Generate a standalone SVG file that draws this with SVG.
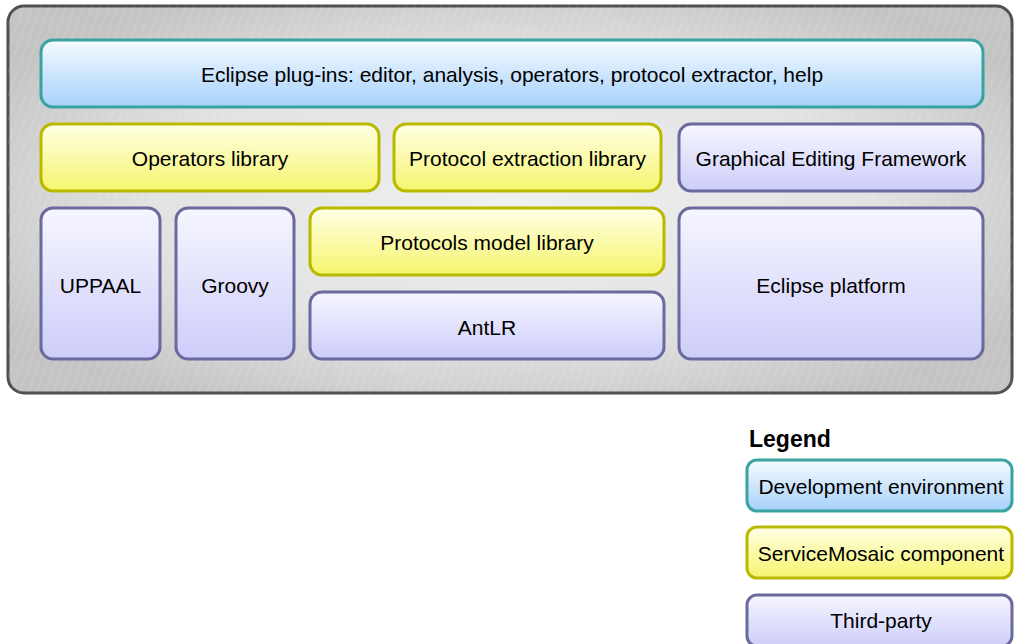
<svg xmlns="http://www.w3.org/2000/svg" width="1014" height="644" viewBox="0 0 1014 644">
<defs>
<radialGradient id="bg" cx="0.5" cy="0.5" r="0.6">
<stop offset="0" stop-color="#f0f0f0"/>
<stop offset="0.6" stop-color="#e2e2e2"/>
<stop offset="1" stop-color="#c4c4c4"/>
</radialGradient>
<pattern id="hatch" width="8" height="8" patternUnits="userSpaceOnUse" patternTransform="rotate(20)">
<line x1="0" y1="0" x2="0" y2="8" stroke="#ffffff" stroke-width="0.8" stroke-opacity="0.35"/>
</pattern>
<linearGradient id="gBlue" x1="0" y1="0" x2="0" y2="1">
<stop offset="0" stop-color="#f6fbff"/>
<stop offset="1" stop-color="#a6d1fb"/>
</linearGradient>
<linearGradient id="gYellow" x1="0" y1="0" x2="0" y2="1">
<stop offset="0" stop-color="#ffffe6"/>
<stop offset="1" stop-color="#f6f56e"/>
</linearGradient>
<linearGradient id="gPurple" x1="0" y1="0" x2="0" y2="1">
<stop offset="0" stop-color="#f6f6ff"/>
<stop offset="1" stop-color="#cdcdfa"/>
</linearGradient>
</defs>
<style>
.dev{fill:url(#gBlue);stroke:#39a39f;stroke-width:3}
.sm{fill:url(#gYellow);stroke:#b9b900;stroke-width:3}
.tp{fill:url(#gPurple);stroke:#6a6a9e;stroke-width:3}
text{font-family:"Liberation Sans",Arial,sans-serif;font-size:21px;fill:#000;text-anchor:middle;dominant-baseline:central}
.leg{font-size:21px}
.title{font-weight:bold;text-anchor:start;font-size:23px}
</style>
<g id="container">
<rect x="8" y="6" width="1004" height="387" rx="16" fill="url(#bg)" stroke="#4f4f4f" stroke-width="3"/>
<rect x="8" y="6" width="1004" height="387" rx="16" fill="url(#hatch)"/>
</g>
<g id="plugins">
<rect class="dev" x="41" y="40" width="942" height="67" rx="12"/>
<text x="512" y="74">Eclipse plug-ins: editor, analysis, operators, protocol extractor, help</text>
</g>
<g id="operators">
<rect class="sm" x="41" y="124" width="338" height="67" rx="12"/>
<text x="210" y="158">Operators library</text>
</g>
<g id="protoext">
<rect class="sm" x="394" y="124" width="267" height="67" rx="12"/>
<text x="527.5" y="158">Protocol extraction library</text>
</g>
<g id="gef">
<rect class="tp" x="679" y="124" width="304" height="67" rx="12"/>
<text x="831" y="158">Graphical Editing Framework</text>
</g>
<g id="uppaal">
<rect class="tp" x="41" y="208" width="119" height="151" rx="12"/>
<text x="100.5" y="285">UPPAAL</text>
</g>
<g id="groovy">
<rect class="tp" x="176" y="208" width="118" height="151" rx="12"/>
<text x="235" y="285">Groovy</text>
</g>
<g id="protomodel">
<rect class="sm" x="310" y="208" width="354" height="67" rx="12"/>
<text x="487" y="242">Protocols model library</text>
</g>
<g id="antlr">
<rect class="tp" x="310" y="292" width="354" height="67" rx="12"/>
<text x="487" y="327">AntLR</text>
</g>
<g id="eclipse">
<rect class="tp" x="679" y="208" width="304" height="151" rx="12"/>
<text x="831" y="285">Eclipse platform</text>
</g>
<g id="legend">
<text class="title" x="749" y="439">Legend</text>
<g id="leg-dev">
<rect class="dev" x="747" y="460" width="265" height="51" rx="10"/>
<text class="leg" x="881" y="486">Development environment</text>
</g>
<g id="leg-sm">
<rect class="sm" x="747" y="527" width="265" height="51" rx="10"/>
<text class="leg" x="881" y="553">ServiceMosaic component</text>
</g>
<g id="leg-tp">
<rect class="tp" x="747" y="595" width="265" height="51" rx="10"/>
<text class="leg" x="881" y="620">Third-party</text>
</g>
</g>
<g id="connectors"/>
</svg>
